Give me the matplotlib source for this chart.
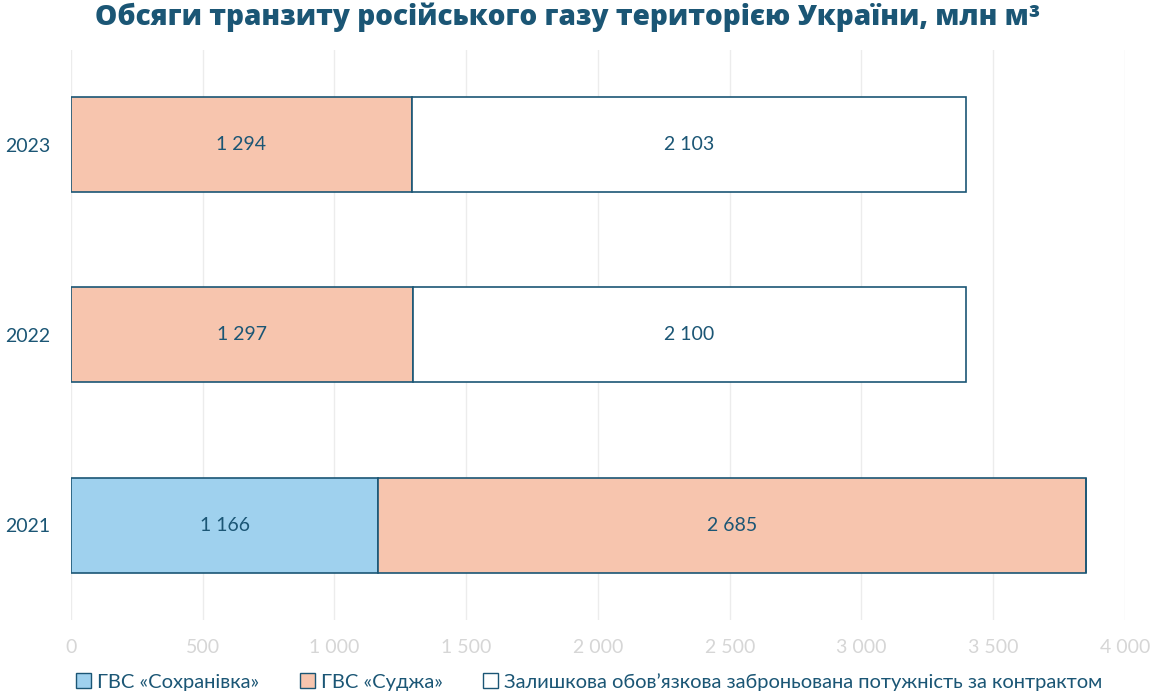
import matplotlib.pyplot as plt
from matplotlib.patches import Patch
from matplotlib.ticker import FuncFormatter

years = ['2021', '2022', '2023']
sokhranivka = [1166, 0, 0]
sudzha = [2685, 1297, 1294]
reserved = [0, 2100, 2103]

ticks = [0, 500, 1000, 1500, 2000, 2500, 3000, 3500, 4000]

dark = '#1b5675'
blue = '#9fd1ee'
salmon = '#f7c5ae'

plt.rcParams['font.family'] = ['Lato', 'DejaVu Sans']


def fmt(v):
    return '{:,}'.format(int(v)).replace(',', ' ')


fig = plt.figure(figsize=(11.6, 6.99), dpi=100)
ax = fig.add_axes([0.0612, 0.113, 0.9086, 0.8155])

pos = list(range(len(years)))
left = [0] * len(years)
for vals, col in [(sokhranivka, blue), (sudzha, salmon), (reserved, 'white')]:
    bars = ax.barh(pos, vals, left=left, height=0.5, color=col,
                   edgecolor=dark, linewidth=1.2, zorder=3)
    for b, v in zip(bars, vals):
        if v > 0:
            ax.text(b.get_x() + b.get_width() / 2, b.get_y() + b.get_height() / 2,
                    fmt(v), ha='center', va='center', fontsize=14,
                    color=dark, zorder=4)
    left = [l + v for l, v in zip(left, vals)]

ax.set_xlim(0, 4000)
ax.set_ylim(-0.5, 2.5)
ax.set_xticks(ticks)
ax.xaxis.set_major_formatter(FuncFormatter(lambda v, p: fmt(v)))
ax.set_yticks(pos)
ax.set_yticklabels(years)
ax.tick_params(axis='x', colors='#d6d6d6', labelsize=14, length=0, pad=14)
ax.tick_params(axis='y', colors=dark, labelsize=14, length=0, pad=15)
ax.grid(axis='x', color='#ececec', linewidth=1, zorder=0)
for s in ax.spines.values():
    s.set_visible(False)

fig.suptitle('Обсяги транзиту російського газу територією України, млн м³',
             x=0.489, y=0.997, fontsize=20.2, fontweight='black', color=dark,
             family=['Open Sans', 'DejaVu Sans'])

handles = [Patch(facecolor=blue, edgecolor=dark),
           Patch(facecolor=salmon, edgecolor=dark),
           Patch(facecolor='white', edgecolor=dark)]
labels = ['ГВС «Сохранівка»', 'ГВС «Суджа»',
          'Залишкова обов\u02bcязкова заброньована потужність за контрактом']
leg = fig.legend(handles, labels, loc='lower center', bbox_to_anchor=(0.508, -0.014),
                 ncol=3, frameon=False, fontsize=14.5, handlelength=0.75,
                 handleheight=0.75, handletextpad=0.3, columnspacing=2.0)
for t in leg.get_texts():
    t.set_color(dark)

fig.savefig('out.png', dpi=100)
